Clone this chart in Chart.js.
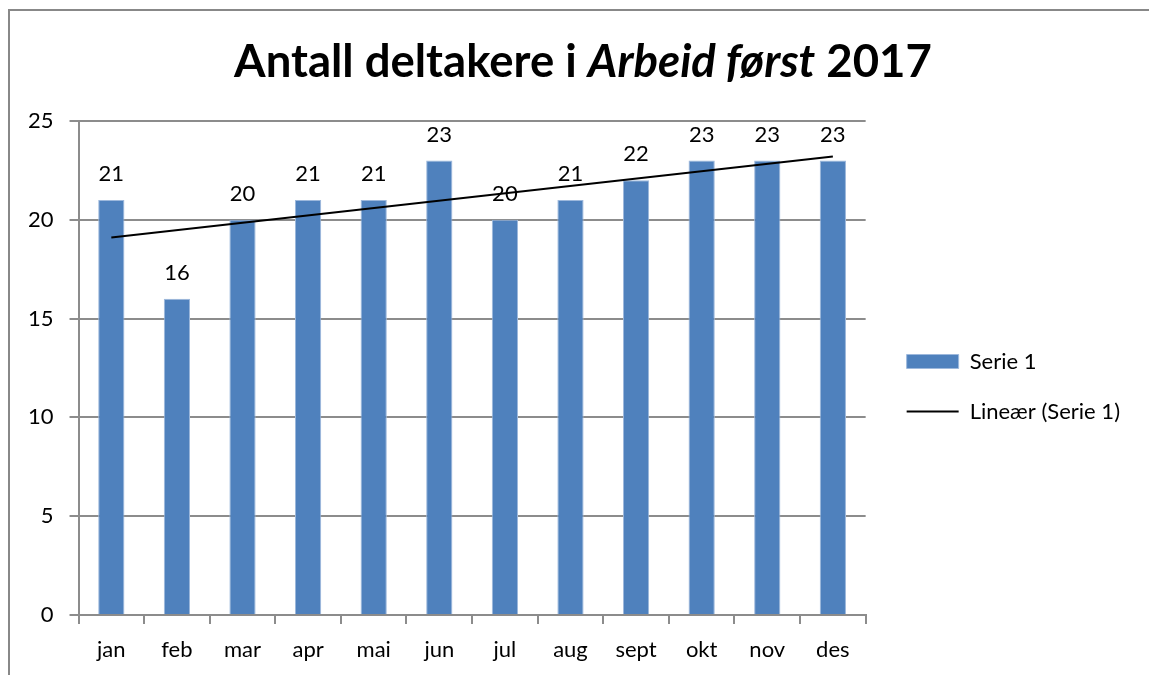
<!DOCTYPE html>
<html>
<head>
<meta charset="utf-8">
<script src="https://cdn.jsdelivr.net/npm/chart.js@4"></script>
<style>
  html, body { margin: 0; padding: 0; background: #fff; }
  #wrap { position: relative; width: 1149px; height: 675px; overflow: hidden; }
  #frame { position: absolute; left: 8px; top: 9px; width: 1200px; height: 700px;
           border-top: 2px solid #888; border-left: 2px solid #888; }
  #tittel { position: absolute; left: 0; top: 32px; width: 1166px; text-align: center;
            font-family: Lato, sans-serif; font-weight: bold; font-size: 45.5px; color: #000; }
  canvas { position: absolute; left: 0; top: 0; }
</style>
</head>
<body>
<div id="wrap">
  <div id="frame"></div>
  <canvas id="deltakerChart" width="1149" height="675"></canvas>
  <div id="tittel">Antall deltakere i <i>Arbeid først</i> 2017</div>
</div>
<script>
const maaneder = ['jan','feb','mar','apr','mai','jun','jul','aug','sept','okt','nov','des'];
const antall = [21, 16, 20, 21, 21, 23, 20, 21, 22, 23, 23, 23];
// trendlinja lest av bildet: start i jan, slutt i des
const trend = [19.1, null, null, null, null, null, null, null, null, null, null, 23.2];
const yTicks = [0, 5, 10, 15, 20, 25];

const FONT = 'Lato';
const GRAA = '#8c8c8c';

const barLabels = {
  id: 'barLabels',
  afterDatasetsDraw(chart){
    const meta = chart.getDatasetMeta(0);
    const ctx = chart.ctx;
    ctx.save();
    ctx.font = '22px ' + FONT;
    ctx.fillStyle = '#000';
    ctx.textAlign = 'center';
    ctx.textBaseline = 'alphabetic';
    meta.data.forEach((bar, i) => {
      ctx.fillText(String(antall[i]), bar.x, bar.y - 19);
    });
    ctx.restore();
  }
};

// flytt forklaringen litt opp
const legendNudge = {
  id: 'legendNudge',
  afterLayout(chart){
    if (chart.legend) {
      chart.legend.top -= 6;
      chart.legend.bottom -= 6;
    }
  }
};

const ctx = document.getElementById('deltakerChart');

new Chart(ctx, {
  type: 'bar',
  data: {
    labels: maaneder,
    datasets: [{
      type: 'bar',
      label: 'Serie 1',
      data: antall,
      yAxisID: 'y',
      backgroundColor: '#4f81bd',
      borderColor: '#9db8dc',
      borderWidth: 1,
      barPercentage: 0.4,
      categoryPercentage: 1,
      pointStyle: 'rect',
      order: 1
    },{
      type: 'line',
      label: 'Lineær (Serie 1)',
      data: trend,
      yAxisID: 'y',
      spanGaps: true,
      borderColor: '#000',
      backgroundColor: '#000',
      borderWidth: 2,
      pointRadius: 0,
      pointStyle: 'line',
      fill: false,
      order: 0
    }]
  },
  options: {
    responsive: false,
    animation: false,
    layout: { padding: { left: 12, right: 19, top: 121, bottom: 11 } },
    plugins: {
      title: { display: false },
      tooltip: { enabled: false },
      legend: {
        position: 'right',
        maxWidth: 270,
        labels: {
          usePointStyle: true,
          pointStyleWidth: 52,
          boxHeight: 14,
          padding: 28,
          color: '#000',
          font: { family: FONT, size: 22 },
          sort: (a, b) => a.datasetIndex - b.datasetIndex
        }
      }
    },
    scales: {
      x: {
        offset: true,
        grid: { offset: true, drawOnChartArea: false, color: GRAA, tickLength: 9, lineWidth: 2 },
        border: { color: GRAA, width: 2 },
        ticks: { color: '#000', font: { family: FONT, size: 22 }, padding: 13 },
        afterFit: s => { s.height = 49; }
      },
      y: {
        min: 0,
        max: 25,
        afterBuildTicks: axis => { axis.ticks = yTicks.map(v => ({ value: v })); },
        grid: { color: GRAA, tickLength: 9, lineWidth: 2 },
        border: { color: GRAA, width: 2 },
        ticks: { color: '#000', font: { family: FONT, size: 22 }, padding: 16 }
      },
      // tom akse, bare for luft mellom plottet og forklaringen
      yLuft: {
        type: 'linear',
        position: 'right',
        grid: { display: false },
        border: { display: false },
        ticks: { display: false },
        afterFit: s => { s.width = 13; }
      }
    }
  },
  plugins: [barLabels, legendNudge]
});
</script>
</body>
</html>
